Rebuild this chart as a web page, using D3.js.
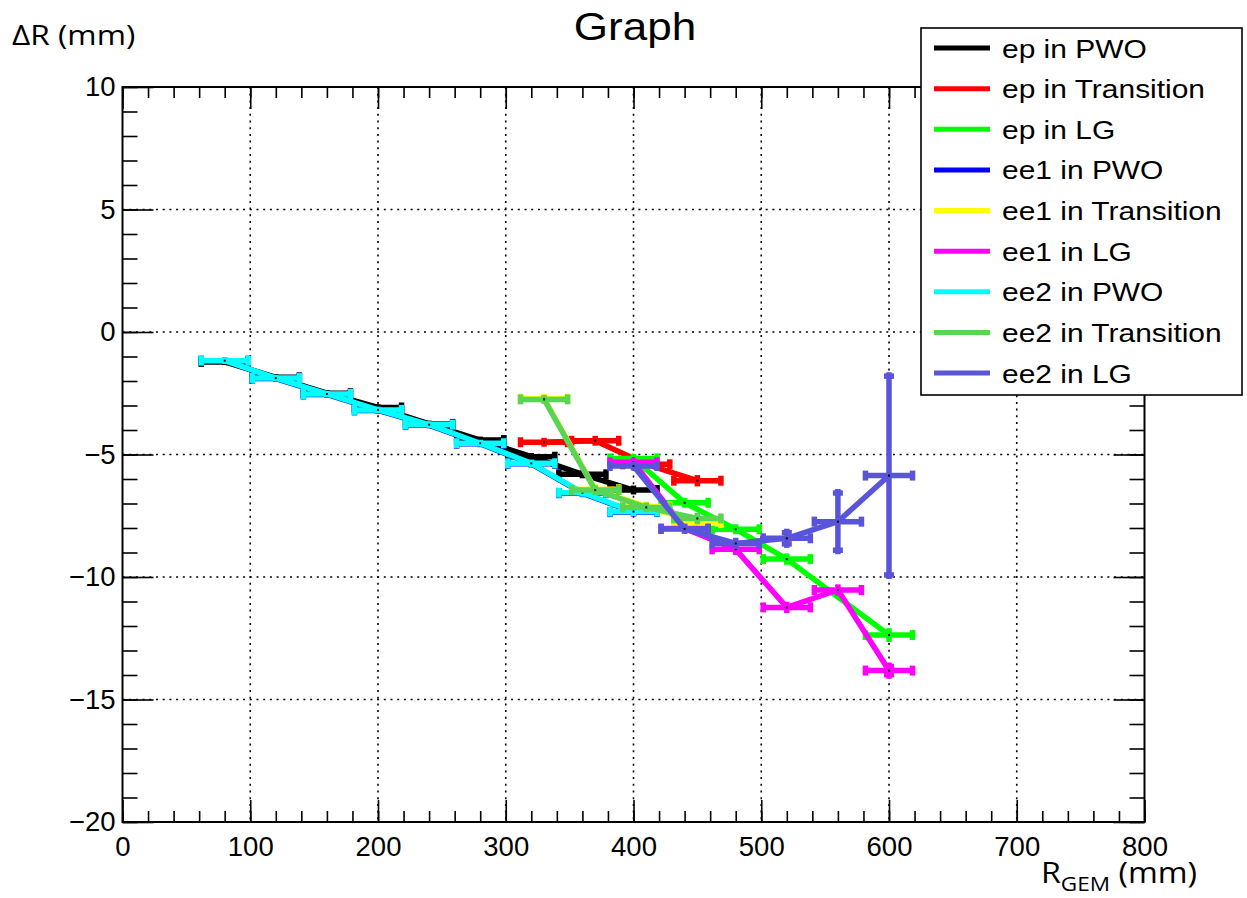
<!DOCTYPE html>
<html>
<head>
<meta charset="utf-8">
<script src="https://cdn.jsdelivr.net/npm/d3@7"></script>
<style>
  body { margin: 0; background: #fff; }
  svg { display: block; }
  .tick text { font-family: "Liberation Sans", Arial, sans-serif; }
</style>
</head>
<body>
<script>
// data
const xPWO = [80, 120, 160, 200, 240, 280, 320, 360, 400];
const xTrans = [330, 370, 410, 450];
const xLG = [400, 440, 480, 520, 560, 600];
const xLGep = [400, 440, 480, 520, 600];
const xErr = 20;

const epPWO = [-1.22, -1.85, -2.5, -3.08, -3.75, -4.41, -5.09, -5.81, -6.45];
const epTrans = [-4.5, -4.44, -5.4, -6.07];
const epLG = [-5.16, -6.97, -8.05, -9.27, -12.37];
const ee1PWO = [-1.17, -1.9, -2.55, -3.2, -3.8, -4.56, -5.38, -6.58, -7.35];
const ee1Trans = [-2.72, -6.42, -7.12, -7.8];
const ee1LG = [-5.32, -8.02, -8.87, -11.24, -10.53, -13.82];
const ee2PWO = [-1.17, -1.88, -2.53, -3.18, -3.78, -4.54, -5.36, -6.56, -7.33];
const ee2Trans = [-2.75, -6.45, -7.16, -7.61];
const ee2LG = [-5.47, -8.04, -8.63, -8.42, -7.74, -5.86];

const errPWO = [0.05, 0.05, 0.05, 0.05, 0.05, 0.06, 0.07, 0.08, 0.1];
const errTrans = [0.1, 0.12, 0.12, 0.15];
const errLG = [0.1, 0.12, 0.15, 0.31, 1.25, 4.14];
const errLGep = [0.1, 0.12, 0.12, 0.15, 0.2];
const errLGee1 = [0.1, 0.12, 0.15, 0.15, 0.15, 0.25];

const names = ['ep in PWO', 'ep in Transition', 'ep in LG', 'ee1 in PWO', 'ee1 in Transition',
  'ee1 in LG', 'ee2 in PWO', 'ee2 in Transition', 'ee2 in LG'];
const colors = ['#000000', '#ff0000', '#00ff00', '#0000ff', '#ffff00', '#ff00ff', '#00ffff', '#59d454', '#5954d9'];

const xTicks = [0, 100, 200, 300, 400, 500, 600, 700, 800];
const yTicks = [-20, -15, -10, -5, 0, 5, 10];

const series = [
  { x: xPWO, y: epPWO, e: errPWO },
  { x: xTrans, y: epTrans, e: errTrans },
  { x: xLGep, y: epLG, e: errLGep },
  { x: xPWO, y: ee1PWO, e: errPWO },
  { x: xTrans, y: ee1Trans, e: errTrans },
  { x: xLG, y: ee1LG, e: errLGee1 },
  { x: xPWO, y: ee2PWO, e: errPWO },
  { x: xTrans, y: ee2Trans, e: errTrans },
  { x: xLG, y: ee2LG, e: errLG }
];

const W = 1247, H = 898;
const plot = { left: 122.5, right: 1144.5, top: 87, bottom: 822 };
const sans = '"Liberation Sans", Arial, sans-serif';
const stretch = 1.13; // text in the picture is a bit wider than the font

const svg = d3.select('body').append('svg').attr('width', W).attr('height', H);

const x = d3.scaleLinear().domain([0, 800]).range([plot.left, plot.right]);
const y = d3.scaleLinear().domain([-20, 10]).range([plot.bottom, plot.top]);

//grid
const grid = svg.append('g').attr('stroke', '#000').attr('stroke-width', 1.6).attr('stroke-dasharray', '2,4.7');
grid.selectAll('.gx').data(xTicks.slice(1, -1)).enter().append('line')
  .attr('x1', d => x(d)).attr('x2', d => x(d)).attr('y1', plot.top).attr('y2', plot.bottom);
grid.selectAll('.gy').data(yTicks.slice(1, -1)).enter().append('line')
  .attr('y1', d => y(d)).attr('y2', d => y(d)).attr('x1', plot.left).attr('x2', plot.right);

//axes: major and minor ticks pointing inward
const xMinor = d3.range(0, 801, 20);
const yMinor = d3.range(-20, 11, 1);

function styleAxis(g) {
  g.select('.domain').remove();
  g.selectAll('.tick line').attr('stroke', '#000').attr('stroke-width', 1.6);
}

svg.append('g').attr('transform', `translate(0,${plot.bottom})`)
  .call(d3.axisBottom(x).tickValues(xTicks).tickSize(-22).tickPadding(10).tickFormat(d3.format('d')))
  .call(styleAxis)
  .selectAll('text').attr('font-size', 27.5).attr('fill', '#000').attr('dy', '0.88em');
svg.append('g').attr('transform', `translate(0,${plot.bottom})`)
  .call(d3.axisBottom(x).tickValues(xMinor).tickSize(-11).tickFormat(''))
  .call(styleAxis);
svg.append('g').attr('transform', `translate(0,${plot.top})`)
  .call(d3.axisTop(x).tickValues(xTicks).tickSize(-22).tickFormat(''))
  .call(styleAxis);
svg.append('g').attr('transform', `translate(0,${plot.top})`)
  .call(d3.axisTop(x).tickValues(xMinor).tickSize(-11).tickFormat(''))
  .call(styleAxis);

svg.append('g').attr('transform', `translate(${plot.left},0)`)
  .call(d3.axisLeft(y).tickValues(yTicks).tickSize(-31).tickPadding(7).tickFormat(d3.format('d')))
  .call(styleAxis)
  .selectAll('text').attr('font-size', 27.5).attr('fill', '#000');
svg.append('g').attr('transform', `translate(${plot.left},0)`)
  .call(d3.axisLeft(y).tickValues(yMinor).tickSize(-15).tickFormat(''))
  .call(styleAxis);
svg.append('g').attr('transform', `translate(${plot.right},0)`)
  .call(d3.axisRight(y).tickValues(yTicks).tickSize(-31).tickFormat(''))
  .call(styleAxis);
svg.append('g').attr('transform', `translate(${plot.right},0)`)
  .call(d3.axisRight(y).tickValues(yMinor).tickSize(-15).tickFormat(''))
  .call(styleAxis);

//frame
svg.append('rect')
  .attr('x', plot.left).attr('y', plot.top)
  .attr('width', plot.right - plot.left).attr('height', plot.bottom - plot.top)
  .attr('fill', 'none').attr('stroke', '#000').attr('stroke-width', 2);

//series
const line = d3.line().x(d => x(d[0])).y(d => y(d[1]));
const cap = 5;

series.forEach((s, i) => {
  const pts = s.x.map((v, j) => [v, s.y[j], s.e[j]]);
  const g = svg.append('g').attr('stroke', colors[i]).attr('fill', 'none')
    .attr('stroke-width', 5.5).attr('stroke-linecap', 'butt');

  g.append('path').datum(pts).attr('d', line).attr('stroke-linejoin', 'round');

  // x error bars with end caps
  g.selectAll('.ex').data(pts).enter().append('line')
    .attr('x1', d => x(d[0] - xErr)).attr('x2', d => x(d[0] + xErr))
    .attr('y1', d => y(d[1])).attr('y2', d => y(d[1]));
  g.selectAll('.cl').data(pts).enter().append('line')
    .attr('x1', d => x(d[0] - xErr) + 2).attr('x2', d => x(d[0] - xErr) + 2)
    .attr('y1', d => y(d[1]) - cap).attr('y2', d => y(d[1]) + cap);
  g.selectAll('.cr').data(pts).enter().append('line')
    .attr('x1', d => x(d[0] + xErr) - 2).attr('x2', d => x(d[0] + xErr) - 2)
    .attr('y1', d => y(d[1]) - cap).attr('y2', d => y(d[1]) + cap);

  // y error bars with end caps
  g.selectAll('.ey').data(pts).enter().append('line')
    .attr('x1', d => x(d[0])).attr('x2', d => x(d[0]))
    .attr('y1', d => y(d[1] + d[2]) - 2).attr('y2', d => y(d[1] - d[2]) + 2);
  g.selectAll('.ct').data(pts.filter(d => d[2] > 0.2)).enter().append('line')
    .attr('x1', d => x(d[0]) - cap).attr('x2', d => x(d[0]) + cap)
    .attr('y1', d => y(d[1] + d[2]) + 2).attr('y2', d => y(d[1] + d[2]) + 2);
  g.selectAll('.cb').data(pts.filter(d => d[2] > 0.2)).enter().append('line')
    .attr('x1', d => x(d[0]) - cap).attr('x2', d => x(d[0]) + cap)
    .attr('y1', d => y(d[1] - d[2]) - 2).attr('y2', d => y(d[1] - d[2]) - 2);

  // point markers
  svg.append('g').selectAll('rect').data(pts).enter().append('rect')
    .attr('x', d => x(d[0]) - 1).attr('y', d => y(d[1]) - 1)
    .attr('width', 2).attr('height', 2).attr('fill', '#000');
});

//titles
svg.append('text').text('Graph')
  .attr('transform', `translate(635,40) scale(${stretch},1)`).attr('text-anchor', 'middle')
  .attr('font-family', sans).attr('font-size', 39);

svg.append('text').text('ΔR (mm)')
  .attr('transform', `translate(12,45) scale(${stretch},1)`)
  .attr('font-family', '"Open Sans", sans-serif').attr('font-size', 28);

const xt = svg.append('text')
  .attr('transform', `translate(1197,883) scale(${stretch},1)`).attr('text-anchor', 'end')
  .attr('font-family', '"Open Sans", sans-serif').attr('font-size', 28.5);
xt.append('tspan').text('R');
xt.append('tspan').text('GEM').attr('font-size', 20).attr('dy', 8);
xt.append('tspan').text('\u00a0(mm)').attr('dy', -8);

//legend
const lg = svg.append('g');
lg.append('rect').attr('x', 921).attr('y', 28).attr('width', 321).attr('height', 367)
  .attr('fill', '#fff').attr('stroke', '#000').attr('stroke-width', 1.6);
const rowY = d3.scaleLinear().domain([0, 8]).range([48, 373]);
const items = lg.selectAll('.item').data(names).enter().append('g')
  .attr('transform', (d, i) => `translate(0,${rowY(i)})`);
items.append('line').attr('x1', 934).attr('x2', 990).attr('y1', 0).attr('y2', 0)
  .attr('stroke', (d, i) => colors[i]).attr('stroke-width', 5);
items.append('text').text(d => d)
  .attr('transform', `translate(1002,9.5) scale(${stretch},1)`)
  .attr('font-family', sans).attr('font-size', 26.5);
</script>
</body>
</html>
